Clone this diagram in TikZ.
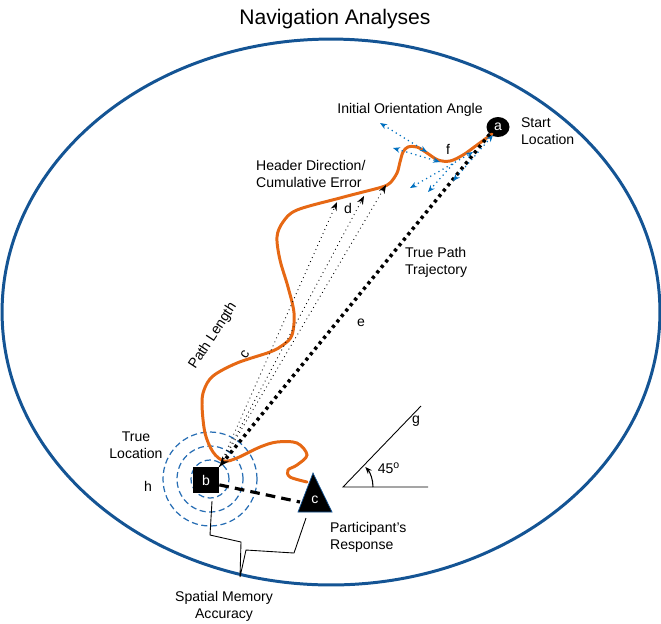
\documentclass[tikz,border=0pt]{standalone}
\usepackage{fontspec}
\setmainfont{Liberation Sans}
\usetikzlibrary{arrows.meta, shapes.geometric}
\definecolor{rim}{RGB}{20,84,148}
\definecolor{route}{RGB}{230,104,20}
\definecolor{ripple}{RGB}{40,110,180}
\definecolor{sky}{RGB}{0,112,192}

\begin{document}
\begin{tikzpicture}[x=0.02cm, y=-0.02cm,
  lbl/.style={font=\fontsize{8}{9.6}\selectfont, inner sep=1pt, align=left},
  marker/.style={fill=black, text=white, font=\fontsize{8}{9.6}\selectfont, inner sep=0pt},
  headarrow/.style={-{Stealth[length=1.7mm, width=1.3mm]}, dotted, line width=0.5pt},
  truepath/.style={-{Stealth[length=2mm, width=1.6mm]}, line width=2pt, dash pattern=on 1.8pt off 2.2pt},
  orient/.style={{Stealth[length=1.4mm, width=1.1mm]}-{Stealth[length=1.4mm, width=1.1mm]}, draw=sky, dotted, line width=0.7pt},
  orientone/.style={-{Stealth[length=1.4mm, width=1.1mm]}, draw=sky, dotted, line width=0.7pt},
]
\useasboundingbox (0,0) rectangle (661,623);

\node[font=\fontsize{12}{14}\selectfont] (title) at (335,19) {Navigation Analyses};
\draw[rim, line width=1.7pt] (331,312) ellipse [x radius=6.58cm, y radius=5.46cm];

% true location
\foreach \r in {0.38,0.66,0.94}
  \draw[ripple, line width=0.7pt, dash pattern=on 3.5pt off 2pt] (210,479) circle[radius=\r cm];
\node[marker, minimum size=0.52cm] (b) at (206,480) {b};
\node[marker, ellipse, minimum width=0.46cm, minimum height=0.4cm] (a) at (498,127) {a};

% walked route
\draw[route, line width=1.7pt, line cap=round] plot[smooth, tension=0.55] coordinates {
  (492,134) (477,145) (463,155) (450,161) (438,160) (427,153) (417,147) (408,147)
  (403,152) (400,162) (397,173) (390,183) (382,187) (363,192) (340,198) (297,210)
  (283,222) (277,237) (280,260) (288,287) (294,313) (292,335) (283,345) (270,352)
  (237,363) (213,376) (204,390) (202,405) (205,433) (213,452) (224,461) (237,458)
  (260,447) (277,442) (297,443) (307,455) (297,465) (288,470) (290,477) (307,482)};

% response
\draw[line width=1.8pt, dash pattern=on 5.5pt off 3.5pt] (b.-20) -- (300,502);
\filldraw[fill=black, draw=rim, line width=0.4pt] (313,473) -- (332,512) -- (298,512) -- cycle;
\node[text=white, font=\fontsize{8}{9.6}\selectfont, inner sep=0pt] (c) at (315,500) {c};

% heading errors
\coordinate (d1) at (337,202);
\coordinate (d2) at (364,196);
\coordinate (d3) at (386,185);
\foreach \t in {d1,d2,d3}
  \draw[headarrow] (b.north east) -- (\t);
\draw[truepath] (a.south west) -- (b.north east);

% initial orientation
\coordinate (o1) at (380,123);  \coordinate (o2) at (427,152);
\coordinate (o3) at (393,148);  \coordinate (o4) at (440,162);
\coordinate (o5) at (410,188);  \coordinate (o6) at (473,152);
\coordinate (o7) at (453,164);  \coordinate (o8) at (428,192);
\coordinate (o9) at (453,181);  \coordinate (o10) at (493,135);
\draw[orient] (o1) -- (o2);
\draw[orient] (o3) -- (o4);
\draw[orient] (o5) -- (o6);
\draw[orientone] (o7) -- (o8);
\draw[orient] (o9) -- (o10);

% angle
\coordinate (v) at (343,487);
\coordinate (h1) at (428,487);
\coordinate (g1) at (421,406);
\draw[line width=0.5pt] (h1) -- (v) -- (g1);
\draw[line width=0.6pt, -{Stealth[length=1.4mm, width=1.1mm]}] (373,487) arc[start angle=0, end angle=42, radius=0.6cm];
\node[lbl] (deg) at (389,468) {45\textsuperscript{o}};

% accuracy brace
\draw[line width=0.5pt] (212,501) -- (210,535) -- (241,542) -- (240,577) -- (246,550) -- (294,553) -- (306,518);

% labels
\node[lbl] (ioa) at (410,110) {Initial Orientation Angle};
\node[lbl, anchor=west] (start) at (519,131) {Start\\Location};
\node[lbl] (f) at (448,149) {f};
\node[lbl, anchor=west] (hdr) at (254,174) {Header Direction/\\Cumulative Error};
\node[lbl] (d) at (348,208) {d};
\node[lbl, anchor=west] (tpt) at (403,262) {True Path\\Trajectory};
\node[lbl] (e) at (361,323) {e};
\node[lbl, rotate=57, inner sep=0pt] (plen) at (213,336) {Path Length};
\node[lbl, rotate=57, inner sep=0pt] (cc) at (245,355) {c};
\node[lbl, align=center] (tloc) at (136,445) {True\\Location};
\node[lbl] (h) at (148,486) {h};
\node[lbl] (g) at (416,421) {g};
\node[lbl, anchor=west] (resp) at (328,537) {Participant’s\\Response};
\node[lbl, align=center] (sma) at (224,606) {Spatial Memory\\Accuracy};
\end{tikzpicture}
\end{document}
